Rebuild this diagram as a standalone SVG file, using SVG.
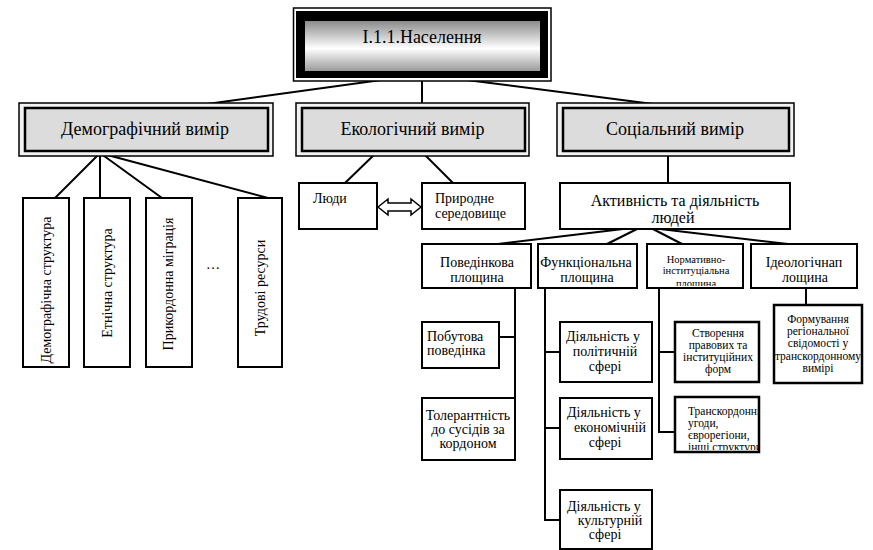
<svg xmlns="http://www.w3.org/2000/svg" width="873" height="550" viewBox="0 0 873 550" font-family="Liberation Serif, serif">
<defs>
<linearGradient id="tg" x1="0" y1="0" x2="0" y2="1">
<stop offset="0" stop-color="#8c8c8c"/>
<stop offset="0.55" stop-color="#ffffff"/>
<stop offset="1" stop-color="#9a9a9a"/>
</linearGradient>
<clipPath id="clipC"><rect x="648" y="245" width="94" height="41"/></clipPath>
<clipPath id="clipT"><rect x="676" y="398" width="82" height="52"/></clipPath>
</defs>
<style>
text{font-family:'Liberation Serif',serif;fill:#000}
.box{fill:#fff;stroke:#000;stroke-width:2}
.outer{fill:#f2f2f2;stroke:#000;stroke-width:1.5}
.inner{fill:#dcdcdc;stroke:#000;stroke-width:2.5}
.ln{stroke:#000;stroke-width:2;fill:none}
.h{font-size:18px;text-anchor:middle}
.m{font-size:14px;text-anchor:middle}
.l{font-size:14px}
.s{font-size:11.5px;text-anchor:middle}
.sl{font-size:11.5px}
.v{font-size:14px;text-anchor:middle;dominant-baseline:central}
</style>
<g id="connectors">
<line class="ln" x1="403" y1="77" x2="207" y2="104"/>
<line class="ln" x1="422" y1="77" x2="422" y2="104"/>
<line class="ln" x1="443" y1="77" x2="653" y2="104"/>
<line class="ln" x1="100" y1="153" x2="55" y2="198"/>
<line class="ln" x1="100" y1="153" x2="100" y2="198"/>
<line class="ln" x1="100" y1="153" x2="162" y2="198"/>
<line class="ln" x1="100" y1="153" x2="268" y2="198"/>
<line class="ln" x1="377" y1="152" x2="345" y2="183"/>
<line class="ln" x1="422" y1="152" x2="453" y2="183"/>
<line class="ln" x1="668" y1="152" x2="668" y2="183"/>
<line class="ln" x1="623" y1="229" x2="498" y2="244"/>
<line class="ln" x1="637" y1="229" x2="607" y2="244"/>
<line class="ln" x1="653" y1="229" x2="682" y2="244"/>
<line class="ln" x1="660" y1="229" x2="788" y2="244"/>
<polyline class="ln" points="515,288 515,398"/>
<line class="ln" x1="499" y1="337" x2="515" y2="337"/>
<polyline class="ln" points="545,288 545,520 560,520"/>
<line class="ln" x1="545" y1="352" x2="560" y2="352"/>
<line class="ln" x1="545" y1="428" x2="560" y2="428"/>
<polyline class="ln" points="659,288 659,432 675,432"/>
<line class="ln" x1="659" y1="352" x2="675" y2="352"/>
<line class="ln" x1="806" y1="288" x2="806" y2="305"/>
<polygon points="378,207 388,199 388,203 411,203 411,199 421,207 411,215 411,211 388,211 388,215" fill="#fff" stroke="#000" stroke-width="1.5"/>
</g>
<g id="title">
<rect x="293.5" y="8" width="257.5" height="73" fill="#fff" stroke="#000" stroke-width="1.5"/>
<rect x="296" y="11" width="252" height="67" fill="#000"/>
<rect x="305" y="21" width="235" height="50" fill="url(#tg)"/>
<text x="422" y="43" class="h">I.1.1.Населення</text>
</g>
<g id="demog">
<rect class="outer" x="19" y="103" width="254" height="53"/>
<rect class="inner" x="25" y="108" width="243" height="43"/>
<text x="145" y="135" class="h">Демографічний вимір</text>
</g>
<g id="eco">
<rect class="outer" x="296" y="103" width="233" height="53"/>
<rect class="inner" x="302" y="108" width="223" height="43"/>
<text x="412.5" y="135" class="h">Екологічний вимір</text>
</g>
<g id="social">
<rect class="outer" x="557" y="103" width="237" height="53"/>
<rect class="inner" x="563" y="108" width="226" height="43"/>
<text x="675" y="135" class="h">Соціальний вимір</text>
</g>
<g id="v1"><rect class="box" x="23" y="198" width="46" height="169"/><text class="v" transform="translate(46,290) rotate(-90)">Демографічна структура</text></g>
<g id="v2"><rect class="box" x="84" y="198" width="46" height="169"/><text class="v" transform="translate(107,283) rotate(-90)">Етнічна структура</text></g>
<g id="v3"><rect class="box" x="146" y="198" width="46" height="169"/><text class="v" transform="translate(168,284) rotate(-90)">Прикордонна міграція</text></g>
<g id="dots"><text x="213" y="269" class="m">…</text></g>
<g id="v4"><rect class="box" x="238" y="198" width="44" height="169"/><text class="v" transform="translate(260,288) rotate(-90)">Трудові ресурси</text></g>
<g id="people"><rect class="box" x="299" y="183" width="78" height="46"/><text x="313" y="203" class="l">Люди</text></g>
<g id="nature"><rect class="box" x="422" y="183" width="103" height="46"/><text x="435" y="203" class="l">Природне</text><text x="435" y="218" class="l">середовище</text></g>
<g id="activity"><rect class="box" x="560" y="183" width="230" height="46"/><text x="675" y="206" class="m" style="font-size:16px">Активність та діяльність</text><text x="673" y="223" class="m" style="font-size:16px">людей</text></g>
<g id="behav"><rect class="box" x="422" y="244" width="109" height="44"/><text x="477" y="267" class="m">Поведінкова</text><text x="477" y="282" class="m">площина</text></g>
<g id="func"><rect class="box" x="538" y="244" width="99" height="44"/><text x="586" y="267" class="m">Функціональна</text><text x="587" y="282" class="m">площина</text></g>
<g id="norm"><rect class="box" x="647" y="244" width="96" height="44"/><text x="696" y="263" class="s" style="font-size:10.5px">Нормативно-</text><text x="696" y="274" class="s" style="font-size:10.5px">інституціальна</text><text x="696" y="287" class="s" style="font-size:10.5px" clip-path="url(#clipC)">площина</text></g>
<g id="ideo"><rect class="box" x="751" y="244" width="106" height="44"/><text x="804" y="267" class="m">Ідеологічнап</text><text x="805" y="282" class="m">лощина</text></g>
<g id="everyday"><rect class="box" x="422" y="322" width="77" height="46"/><text x="427" y="341" class="l">Побутова</text><text x="427" y="355" class="l">поведінка</text></g>
<g id="toler"><rect class="box" x="422" y="398" width="93" height="62"/><text x="468" y="420" class="m">Толерантність</text><text x="468" y="434" class="m">до сусідів за</text><text x="468" y="448" class="m">кордоном</text></g>
<g id="pol"><rect class="box" x="560" y="322" width="92" height="60"/><text x="603" y="341" class="m">Діяльність у</text><text x="605" y="356" class="m">політичній</text><text x="605" y="371" class="m">сфері</text></g>
<g id="econ"><rect class="box" x="560" y="398" width="92" height="61"/><text x="567" y="417" class="l">Діяльність у</text><text x="610" y="432" class="m">економічній</text><text x="605" y="447" class="m">сфері</text></g>
<g id="cult"><rect class="box" x="560" y="490" width="92" height="59"/><text x="567" y="511" class="l">Діяльність у</text><text x="610" y="525" class="m">культурній</text><text x="605" y="539" class="m">сфері</text></g>
<g id="legal"><rect class="box" x="675" y="322" width="84" height="60" style="stroke-width:2.5"/><text x="718" y="337" class="s">Створення</text><text x="718" y="349" class="s">правових та</text><text x="718" y="361" class="s">інституційних</text><text x="718" y="373" class="s">форм</text></g>
<g id="cross"><rect class="box" x="675" y="397" width="84" height="55" style="stroke-width:2.5"/><g clip-path="url(#clipT)"><text x="688" y="415" class="sl">Транскордонні</text><text x="688" y="427" class="sl">угоди,</text><text x="688" y="439" class="sl">єврорегіони,</text><text x="688" y="451" class="sl">інші структури</text></g></g>
<g id="form"><rect class="box" x="774" y="305" width="88" height="78" style="stroke-width:2.5"/><text x="818" y="323" class="s">Формування</text><text x="818" y="335" class="s">регіональної</text><text x="818" y="347" class="s">свідомості у</text><text x="818" y="360" class="s">транскордонному</text><text x="818" y="372" class="s">вимірі</text></g>
</svg>
